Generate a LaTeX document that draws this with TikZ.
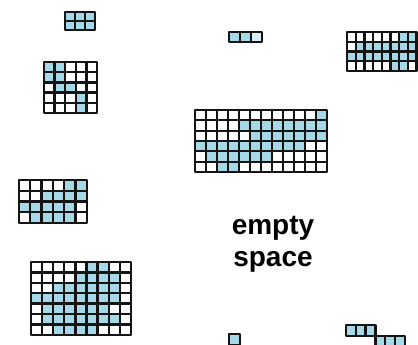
\documentclass[tikz,border=0pt]{standalone}
\usepackage{fontspec}
\setmainfont{Liberation Sans}
\definecolor{cellblue}{RGB}{166,216,232}
\colorlet{c0}{white}
\colorlet{c1}{cellblue}
\colorlet{c2}{cellblue!45}
\tikzset{gridline/.style={draw=black!92, line width=2.3pt, line join=round}}
\newcommand\cellgrid[5]{%
  \foreach \rowlist [count=\ri from 0] in {#5} {
    \foreach \v [count=\ci from 0] in \rowlist {
      \ifnum\v=9\relax\else
        \draw[gridline, fill=c\v] ({#1+\ci*#3},{#2+\ri*#4}) rectangle ++(#3,#4);
      \fi
    }
  }%
}
\begin{document}
\begin{tikzpicture}[x=1pt,y=-1pt]
\useasboundingbox (0,0) rectangle (418,345);
\clip (0,0) rectangle (418,345);
% grid 1
\cellgrid{65}{12}{10}{9}{{1,1,1},{1,1,1}}
% grid 2
\cellgrid{44}{62}{10.6}{10.2}{{1,1,0,0,0},{1,1,0,0,0},{0,1,1,0,0},{0,0,0,1,0},{0,0,0,1,0}}
% grid 3
\cellgrid{229}{32}{11}{10}{{1,1,2}}
% grid 4
\cellgrid{347}{32}{8.7}{9.75}{{0,0,0,0,0,0,1,1},{0,1,1,1,1,1,1,1},{1,1,1,1,1,1,1,1},{0,0,0,0,0,1,1,0}}
% grid 5
\cellgrid{195}{110}{11}{10.33}{{0,0,0,0,0,0,0,0,0,0,0,1},{0,0,0,0,1,1,1,1,1,1,1,1},{0,0,0,0,0,1,1,1,1,1,1,1},{1,1,1,1,1,1,1,1,1,1,0,0},{0,1,1,1,1,1,1,0,0,0,0,0},{0,0,1,1,0,0,0,0,0,0,0,0}}
% grid 6
\cellgrid{19}{180}{11.3}{10.75}{{0,0,0,0,1,1},{0,0,1,1,1,1},{1,1,1,1,1,0},{0,1,1,1,1,0}}
% grid 7
\cellgrid{31}{262}{11.1}{10.4}{{0,0,0,0,0,1,1,0,0},{0,0,0,0,1,1,1,1,0},{0,0,1,1,1,1,1,1,0},{1,1,1,1,1,1,1,1,0},{0,1,1,1,1,1,1,0,0},{0,1,1,1,1,1,1,1,0},{0,0,1,1,1,1,0,0,0}}
% grid 8
\cellgrid{229}{334}{11}{11}{{1}}
% grid 9
\cellgrid{346}{325}{9.8}{11}{{1,1,1,9,9,9},{9,9,9,1,1,1}}
% label
\node[font=\fontsize{28}{32}\selectfont\bfseries, align=center, text=black] (label) at (273,244) {empty\\space};
\end{tikzpicture}
\end{document}
